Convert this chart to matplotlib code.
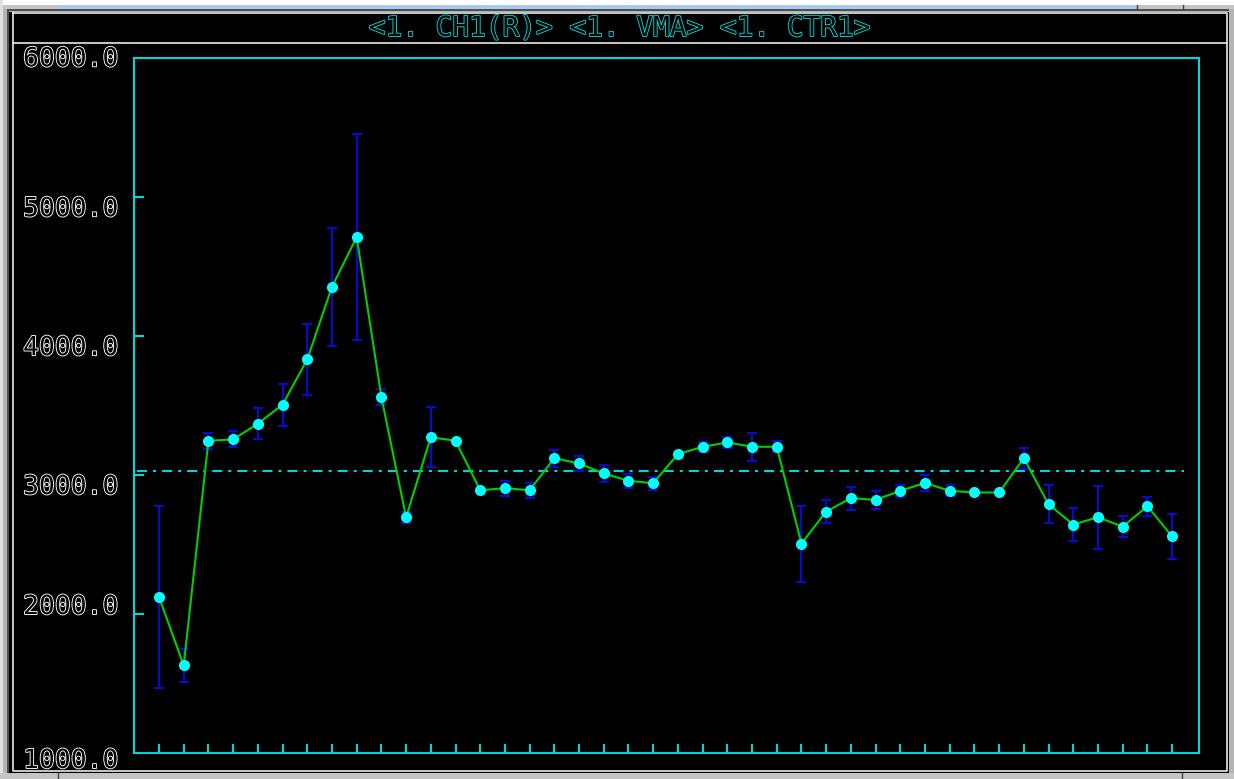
import matplotlib
matplotlib.use('Agg')
import matplotlib.pyplot as plt
import matplotlib.patheffects as pe
import matplotlib.transforms as mtransforms
from matplotlib.patches import Rectangle
import numpy as np

W, H = 1234, 779

# channel readings per sample and their spread
counts = [2123, 1630, 3247, 3257, 3370, 3507, 3833, 4355, 4713, 3562,
          2697, 3273, 3247, 2891, 2906, 2891, 3122, 3084, 3012, 2959,
          2942, 3151, 3204, 3235, 3204, 3204, 2507, 2738, 2834, 2822,
          2887, 2944, 2887, 2875, 2875, 3122, 2790, 2644, 2697, 2629,
          2776, 2559]
errs = [653, 118, 56, 58, 110, 152, 254, 425, 741, 58,
        40, 214, 0, 0, 55, 54, 60, 53, 60, 50,
        47, 0, 36, 41, 99, 38, 274, 80, 82, 67,
        42, 56, 40, 0, 0, 76, 137, 116, 226, 76,
        68, 164]
mean_level = 3028
ytick_vals = [1000, 2000, 3000, 4000, 5000, 6000]
title_txt = '<1. CH1(R)> <1. VMA> <1. CTR1>'

# the terminal font puts its labels a little off the tick rows (pixels, up)
label_shift = {1000: -8, 2000: 7, 3000: -12, 4000: -12, 5000: -12, 6000: -1}

CYAN = '#00D8D8'
MONO = 'DejaVu Sans Mono'


def hollow(color, lw=1.3):
    return [pe.Stroke(linewidth=lw, foreground=color), pe.Normal()]


fig = plt.figure(figsize=(W / 100, H / 100), dpi=100, facecolor='black')

# window chrome, drawn in pixel coordinates
bg = fig.add_axes([0, 0, 1, 1])
bg.set_xlim(0, W)
bg.set_ylim(H, 0)
bg.axis('off')


def px_rect(x0, y0, x1, y1, color):
    bg.add_patch(Rectangle((x0, y0), x1 - x0, y1 - y0, color=color, lw=0))


px_rect(0, 0, W, 5, 'white')
px_rect(0, 5, W, 8.5, '#C4C4C4')
px_rect(58, 5, 1137, 8.5, '#A6CAF0')
px_rect(0, 8.5, W, 10.5, '#505050')
px_rect(0, 10.5, W, 12, '#B0B0B0')
px_rect(0, 0, 3, H, '#E0E0E0')
px_rect(3, 8.5, 7, H, '#B4B4B4')
px_rect(7, 8.5, 9, H, '#505050')
px_rect(1229, 8.5, W, H, '#B4B4B4')
px_rect(0, 773, W, H, '#C4C4C4')
for xx in (58, 1182):
    bg.plot([xx, xx], [773, H], color='#404040', lw=1)
for xx in (1137, 1183):
    bg.plot([xx, xx], [5, 8.5], color='#404040', lw=1)

# white panel border and title separator
bg.plot([12.5, 1226.5, 1226.5, 12.5, 12.5], [13, 13, 771, 771, 13],
        color='#E8E8E8', lw=1.2)
bg.plot([12.5, 1226.5], [42.5, 42.5], color='#E8E8E8', lw=1.2)

bg.text(620, 28, title_txt, ha='center', va='center', fontsize=20,
        family=MONO, color='black', path_effects=hollow(CYAN))

# data panel
left, right, top, bottom = 134.3, 1199.3, 58.3, 753
ax = fig.add_axes([left / W, (H - bottom) / H, (right - left) / W, (bottom - top) / H])
ax.set_facecolor('black')
x = np.arange(1, len(counts) + 1)
ax.set_xlim(0, len(counts) + 1.1)
ax.set_ylim(ytick_vals[0], ytick_vals[-1])

ax.hlines(mean_level, x[0] - 0.9, x[-1] + 0.5, colors=CYAN, lw=1.5,
          linestyles=[(0, (4.8, 2.9, 1.44, 2.9))], zorder=1)
ax.errorbar(x, counts, yerr=errs, fmt='none', ecolor='#0A0ACF',
            elinewidth=1.5, capsize=3.6, capthick=1.5, zorder=2)
ax.plot(x, counts, color='#00D000', lw=1.5, zorder=3)
ax.plot(x, counts, 'o', ms=8, mfc='#00FFFF', mec='#00FFFF', mew=0, zorder=4)

for s in ax.spines.values():
    s.set_color(CYAN)
    s.set_linewidth(1.5)
ax.set_xticks(x)
ax.set_yticks(ytick_vals[1:-1])
ax.tick_params(axis='x', direction='in', length=6.5, width=1.5, color=CYAN,
               labelbottom=False)
ax.tick_params(axis='y', direction='in', length=7.5, width=1.5, color=CYAN,
               labelleft=False)

for v in ytick_vals:
    lab_tr = mtransforms.offset_copy(ax.get_yaxis_transform(), fig=fig,
                                     x=-16, y=label_shift[v], units='dots')
    ax.text(0, v, f'{v:.1f}', transform=lab_tr, ha='right', va='center',
            fontsize=19, family=MONO, color='black', clip_on=False,
            path_effects=hollow('white'))

fig.savefig('out.png', dpi=100, facecolor='black')
